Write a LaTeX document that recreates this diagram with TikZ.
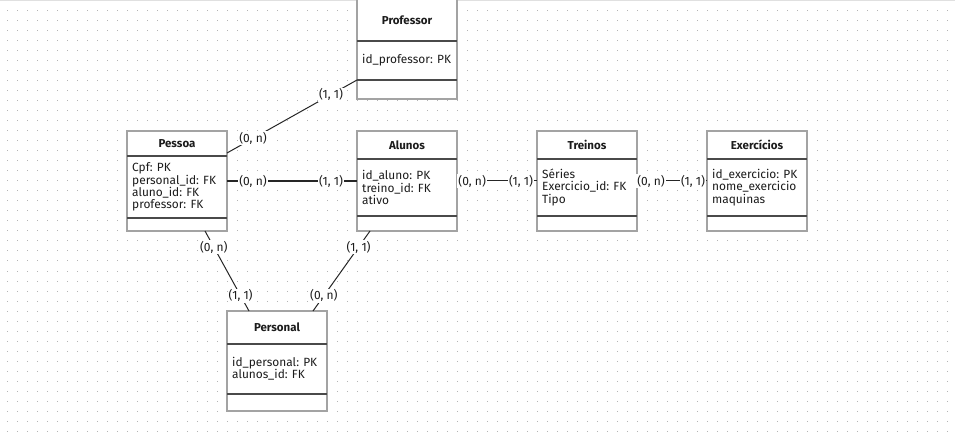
\documentclass[tikz,border=0pt]{standalone}
\usepackage{fontspec}
\setmainfont{Fira Sans}
\usetikzlibrary{calc}
\definecolor{boxgray}{HTML}{A3A3A3}
\definecolor{sepgray}{HTML}{4A4A4A}
\definecolor{dotgray}{HTML}{B4B4B4}
\definecolor{txt}{HTML}{1C1C1C}
\newcommand\erbox[7]{%
  % #1 name, #2 x, #3 top y, #4 header h, #5 sep offset, #6 title, #7 attributes
  \node[ebox] (#1) at (#2+50,#3+50) {};
  \draw[sepline] (#2,#3+#4) -- (#2+100,#3+#4);
  \draw[sepline] (#2,#3+#5) -- (#2+100,#3+#5);
  \node[etitle] (#1-t) at (#2+50,#3+#4/2) {#6};
  \node[eattr] (#1-a) at (#2+5,#3+#4/2+#5/2) {#7};
}
\begin{document}
\begin{tikzpicture}[x=1pt,y=-1pt,
  ebox/.style={draw=boxgray, line width=2pt, fill=white, minimum width=100pt, minimum height=100pt, inner sep=0pt, outer sep=0pt},
  sepline/.style={draw=sepgray, line width=1.2pt},
  etitle/.style={font=\fontsize{11.5}{12}\selectfont\bfseries, text=txt, inner sep=0pt},
  eattr/.style={font=\fontsize{11.9}{12.3}\selectfont, text=txt, align=left, anchor=west, inner sep=0pt},
  conn/.style={draw=black!85, line width=1pt},
  lbl/.style={fill=white, inner sep=1pt, font=\fontsize{12}{12}\selectfont, text=txt}]
\useasboundingbox (0,0) rectangle (955,438);
\fill[white] (0,0) rectangle (955,438);
\draw[black!12, line width=1pt] (0,0.5) -- (955,0.5);
\foreach \i in {0,...,94}{\foreach \j in {0,...,42}{\fill[dotgray] (6.5+10*\i,10.5+10*\j) rectangle ++(1,1);}}
\erbox{professor}{357}{-1}{42}{81}{Professor}{id\_professor: PK}
\erbox{pessoa}{127}{131}{25}{87}{Pessoa}{Cpf: PK\\personal\_id: FK\\aluno\_id: FK\\professor: FK}
\erbox{alunos}{357}{131}{28}{85}{Alunos}{id\_aluno: PK\\treino\_id: FK\\ativo}
\erbox{treinos}{537}{131}{28}{85}{Treinos}{Séries\\Exercicio\_id: FK\\Tipo}
\erbox{exercicios}{707}{131}{28}{85}{Exercícios}{id\_exercicio: PK\\nome\_exercicio\\maquinas}
\erbox{personal}{227}{311}{33}{83}{Personal}{id\_personal: PK\\alunos\_id: FK}
\draw[conn] ($(professor.north west)+(0,81)$) -- node[lbl,pos=0.2]{(1, 1)} node[lbl,pos=0.8]{(0, n)} ($(pessoa.north east)+(0,22)$);
\draw[conn, line width=1.8pt] (pessoa.east) -- node[lbl,pos=0.2]{(0, n)} node[lbl,pos=0.8]{(1, 1)} (alunos.west);
\draw[conn] (alunos.east) -- node[lbl,pos=0.19]{(0, n)} node[lbl,pos=0.8]{(1, 1)} (treinos.west);
\draw[conn] (treinos.east) -- node[lbl,pos=0.2]{(0, n)} node[lbl,pos=0.8]{(1, 1)} (exercicios.west);
\draw[conn] ($(pessoa.south west)+(78,0)$) -- node[lbl,pos=0.2]{(0, n)} node[lbl,pos=0.81]{(1, 1)} ($(personal.north west)+(22,0)$);
\draw[conn] ($(alunos.south west)+(13,0)$) -- node[lbl,pos=0.2]{(1, 1)} node[lbl,pos=0.81]{(0, n)} ($(personal.north west)+(86,0)$);
\end{tikzpicture}
\end{document}
